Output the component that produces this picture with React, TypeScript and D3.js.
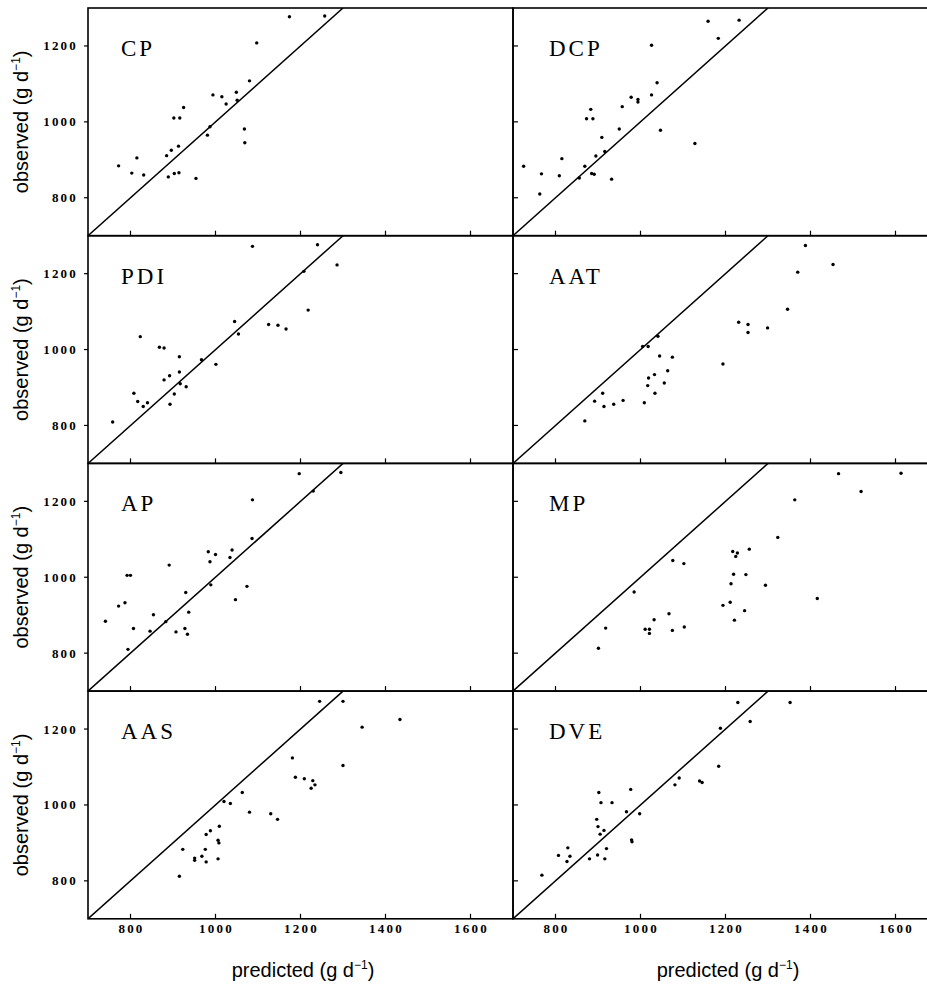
import React from "react";
import * as d3 from "d3";

const panelNames = ["CP", "DCP", "PDI", "AAT", "AP", "MP", "AAS", "DVE"];
const xTicks = [800, 1000, 1200, 1400, 1600];
const yTicks = [800, 1000, 1200];
const xDomain = [700, 1700];
const yDomain = [700, 1300];
const diagonal = [700, 1300];

const cpData: [number, number][] = [
  [772, 884], [803, 865], [815, 905], [831, 860], [885, 911], [896, 925], [913, 936],
  [889, 855], [903, 864], [914, 866], [902, 1010], [916, 1010], [925, 1038], [954, 851],
  [981, 965], [987, 987], [994, 1071], [1015, 1066], [1025, 1047], [1049, 1078],
  [1051, 1057], [1068, 981], [1069, 945], [1080, 1108], [1097, 1208], [1174, 1277], [1257, 1279],
];
const dcpData: [number, number][] = [
  [725, 883], [767, 863], [763, 810], [809, 858], [815, 903], [856, 852], [869, 883],
  [883, 1033], [873, 1008], [888, 1008], [885, 864], [891, 862], [895, 910], [909, 959],
  [916, 922], [932, 849], [950, 981], [957, 1040], [978, 1065], [994, 1059], [994, 1052],
  [1026, 1202], [1026, 1071], [1039, 1103], [1047, 978], [1128, 943], [1159, 1265],
  [1183, 1220], [1232, 1268],
];
const pdiData: [number, number][] = [
  [758, 809], [808, 885], [817, 863], [830, 850], [840, 860], [823, 1034], [868, 1006],
  [879, 1004], [879, 920], [892, 931], [893, 856], [903, 883], [915, 981], [915, 941],
  [917, 910], [931, 902], [967, 973], [1001, 961], [1045, 1074], [1054, 1041], [1087, 1272],
  [1125, 1066], [1147, 1064], [1166, 1054], [1208, 1206], [1218, 1104], [1240, 1276], [1286, 1223],
];
const aatData: [number, number][] = [
  [869, 812], [892, 864], [911, 885], [914, 850], [937, 856], [959, 866], [1005, 1008],
  [1018, 1008], [1041, 1035], [1045, 983], [1075, 980], [1009, 860], [1017, 905], [1019, 925],
  [1033, 934], [1034, 885], [1056, 912], [1064, 944], [1194, 962], [1231, 1072], [1253, 1066],
  [1253, 1045], [1299, 1057], [1346, 1106], [1370, 1204], [1388, 1274], [1453, 1224],
];
const apData: [number, number][] = [
  [741, 884], [772, 924], [787, 933], [794, 810], [792, 1005], [800, 1005], [807, 865],
  [846, 858], [854, 901], [883, 883], [891, 1032], [907, 856], [928, 865], [934, 850],
  [930, 960], [937, 908], [983, 1067], [987, 1041], [989, 980], [1000, 1060], [1034, 1052],
  [1039, 1072], [1047, 941], [1074, 976], [1086, 1102], [1087, 1204], [1197, 1273],
  [1230, 1227], [1295, 1276],
];
const mpData: [number, number][] = [
  [901, 813], [918, 866], [985, 961], [1011, 863], [1021, 863], [1021, 852], [1032, 888],
  [1067, 904], [1075, 860], [1076, 1044], [1102, 1036], [1103, 869], [1194, 926], [1211, 934],
  [1213, 983], [1217, 1068], [1224, 1055], [1228, 1064], [1219, 1008], [1221, 887], [1245, 912],
  [1248, 1007], [1256, 1074], [1294, 979], [1323, 1105], [1363, 1204], [1416, 944],
  [1466, 1273], [1519, 1226], [1613, 1274],
];
const aasData: [number, number][] = [
  [915, 812], [923, 883], [951, 860], [951, 854], [968, 865], [976, 883], [978, 850],
  [978, 922], [988, 932], [1006, 858], [1006, 907], [1008, 900], [1009, 944], [1020, 1009],
  [1035, 1004], [1063, 1033], [1080, 981], [1130, 977], [1146, 962], [1181, 1124],
  [1188, 1073], [1209, 1069], [1225, 1044], [1229, 1064], [1234, 1053], [1245, 1273],
  [1300, 1273], [1300, 1104], [1345, 1205], [1434, 1225],
];
const dveData: [number, number][] = [
  [768, 815], [807, 867], [827, 851], [829, 887], [834, 865], [880, 858], [899, 868],
  [897, 962], [900, 943], [902, 1033], [907, 1006], [905, 923], [914, 933], [916, 858],
  [920, 885], [933, 1006], [967, 982], [977, 1041], [979, 908], [980, 903], [998, 977],
  [1081, 1053], [1091, 1071], [1139, 1063], [1145, 1059], [1184, 1102], [1188, 1202],
  [1229, 1270], [1258, 1220], [1352, 1270],
];

const panelData = [cpData, dcpData, pdiData, aatData, apData, mpData, aasData, dveData];

const W = 927;
const H = 987;
const colX = [88, 513];
const pw = 425;
const top0 = 8;
const ph = 227.7;

function Superscript({ base }: { base: string }) {
  return (
    <>
      {base}
      <tspan dy={-8} fontSize={12}>−1</tspan>
      <tspan dy={8}>)</tspan>
    </>
  );
}

function Panel({ idx }: { idx: number }) {
  const col = idx % 2;
  const row = Math.floor(idx / 2);
  const x0 = colX[col];
  const y0 = top0 + row * ph;
  const x = d3.scaleLinear().domain(xDomain).range([x0, x0 + pw]);
  const y = d3.scaleLinear().domain(yDomain).range([y0 + ph, y0]);
  const data = panelData[idx];
  const line = d3.line<number>().x((d) => x(d)).y((d) => y(d));
  const clipId = `clip${idx}`;
  return (
    <g>
      <defs>
        <clipPath id={clipId}>
          <rect x={x0} y={y0} width={pw} height={ph} />
        </clipPath>
      </defs>
      <rect x={x0} y={y0} width={pw} height={ph} fill="none" stroke="#000" strokeWidth={1.6} />
      {xTicks.map((t) => (
        <line key={"xt" + t} x1={x(t)} x2={x(t)} y1={y0 + ph} y2={y0 + ph - 5} stroke="#000" strokeWidth={1.2} />
      ))}
      {yTicks.map((t) => (
        <line
          key={"yt" + t}
          x1={x0}
          x2={col === 0 ? x0 - 4 : x0 + 5}
          y1={y(t)}
          y2={y(t)}
          stroke="#000"
          strokeWidth={1.2}
        />
      ))}
      <g clipPath={`url(#${clipId})`}>
        <path d={line(diagonal) || ""} stroke="#000" strokeWidth={1.5} fill="none" />
        {data.map((d, i) => (
          <circle key={i} cx={x(d[0])} cy={y(d[1])} r={1.7} fill="#000" />
        ))}
      </g>
      <text
        x={x0 + (col === 0 ? 33 : 36)}
        y={y0 + 48}
        fontFamily="'Liberation Serif', 'DejaVu Serif', serif"
        fontSize={23}
        letterSpacing={3}
        fill="#000"
      >
        {panelNames[idx]}
      </text>
      {col === 0 &&
        yTicks.map((t) => (
          <text
            key={"yl" + t}
            x={x0 - 10}
            y={y(t) + 4.5}
            textAnchor="end"
            fontFamily="'Liberation Serif', serif"
            fontSize={13}
            fontWeight={600}
            letterSpacing={2.2}
            fill="#000"
          >
            {t}
          </text>
        ))}
      {col === 0 && (
        <text
          transform={`translate(28,${y0 + ph / 2}) rotate(-90)`}
          textAnchor="middle"
          fontFamily="'Liberation Sans', Arial, sans-serif"
          fontSize={20}
          fill="#000"
        >
          <Superscript base="observed (g d" />
        </text>
      )}
      {row === 3 &&
        xTicks.map((t) => (
          <text
            key={"xl" + t}
            x={x(t) + 1}
            y={933}
            textAnchor="middle"
            fontFamily="'Liberation Serif', serif"
            fontSize={13}
            fontWeight={600}
            letterSpacing={2.2}
            fill="#000"
          >
            {t}
          </text>
        ))}
      {row === 3 && (
        <text
          x={x0 + 215}
          y={977}
          textAnchor="middle"
          fontFamily="'Liberation Sans', Arial, sans-serif"
          fontSize={20}
          fill="#000"
        >
          <Superscript base="predicted (g d" />
        </text>
      )}
    </g>
  );
}

export default function App() {
  return (
    <svg
      width={W}
      height={H}
      viewBox={`0 0 ${W} ${H}`}
      style={{ position: "absolute", left: 0, top: 0, display: "block", background: "#fff" }}
    >
      <rect width={W} height={H} fill="#fff" />
      {panelNames.map((_, i) => (
        <Panel key={i} idx={i} />
      ))}
    </svg>
  );
}
